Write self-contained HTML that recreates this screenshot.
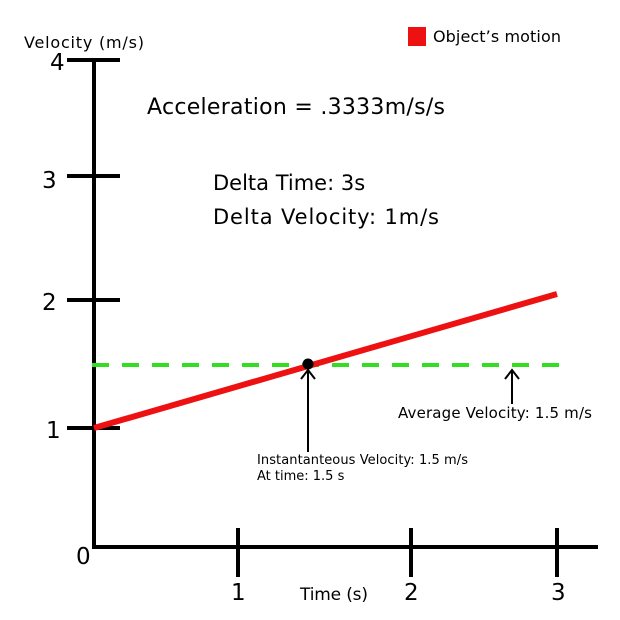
<!DOCTYPE html>
<html><head><style>body{margin:0;background:#fff}svg{display:block}text{font-family:"DejaVu Sans","Liberation Sans",sans-serif;fill:#000}</style></head>
<body>
<svg width="620" height="620" viewBox="0 0 620 620">
<rect width="620" height="620" fill="#fff"/>
<g stroke="#000" stroke-width="4" fill="none">
<line x1="94" y1="58" x2="94" y2="549"/>
<line x1="92" y1="547" x2="598" y2="547"/>
<line x1="67" y1="60" x2="120" y2="60"/>
<line x1="67" y1="176" x2="120" y2="176"/>
<line x1="67" y1="300" x2="120" y2="300"/>
<line x1="67" y1="428" x2="120" y2="428"/>
<line x1="238" y1="528" x2="238" y2="577"/>
<line x1="411" y1="528" x2="411" y2="577"/>
<line x1="557" y1="528" x2="557" y2="577"/>
</g>
<line x1="92" y1="365" x2="570" y2="365" stroke="#33dd22" stroke-width="4" stroke-dasharray="17,13"/>
<line x1="94" y1="428" x2="557" y2="294" stroke="#ee1111" stroke-width="6"/>
<circle cx="308" cy="364" r="5.5" fill="#000"/>
<g stroke="#000" stroke-width="2" fill="none">
<line x1="308" y1="368" x2="308" y2="452"/><polyline points="301,379 308,370 315,379"/>
<line x1="512" y1="370" x2="512" y2="404"/><polyline points="505,379 512,370 519,379"/>
</g>
<rect x="408" y="27" width="18" height="19" fill="#ee1111"/>
<text x="433" y="42" font-size="16" textLength="128">Object’s motion</text>
<text x="24" y="48" font-size="16" textLength="120">Velocity (m/s)</text>
<text x="147" y="114" font-size="22" textLength="298">Acceleration = .3333m/s/s</text>
<text x="213" y="190" font-size="21">Delta Time: 3s</text>
<text x="213" y="224" font-size="21" textLength="226">Delta Velocity: 1m/s</text>
<text x="398" y="418" font-size="15" textLength="194">Average Velocity: 1.5 m/s</text>
<text x="257" y="464" font-size="13" textLength="211">Instantanteous Velocity: 1.5 m/s</text>
<text x="257" y="480" font-size="13">At time: 1.5 s</text>
<g font-size="23">
<text x="50" y="70">4</text><text x="42" y="188">3</text><text x="42" y="310">2</text><text x="46" y="438">1</text>
<text x="76" y="564">0</text>
<text x="231" y="600">1</text><text x="404" y="600">2</text><text x="551" y="600">3</text>
</g>
<text x="300" y="600" font-size="17" textLength="68">Time (s)</text>
</svg>
</body></html>
